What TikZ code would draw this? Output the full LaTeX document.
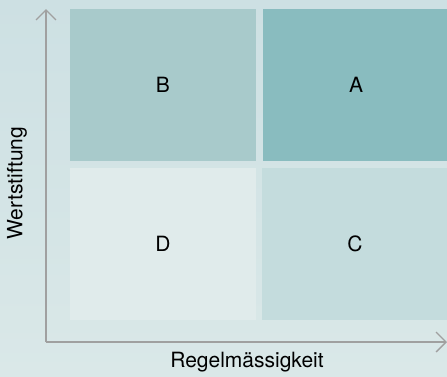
\documentclass[tikz,border=0pt]{standalone}
\usepackage{fontspec}
\setmainfont{TeX Gyre Heros}
\usetikzlibrary{positioning, arrows.meta}
\definecolor{fondoarriba}{RGB}{205, 224, 227}
\definecolor{fondoabajo}{RGB}{218, 232, 232}
\definecolor{tealfuerte}{RGB}{137, 188, 191}
\definecolor{tealmedio}{RGB}{168, 202, 203}
\definecolor{tealsuave}{RGB}{196, 220, 221}
\definecolor{tealclaro}{RGB}{224, 235, 235}
\definecolor{grisejes}{RGB}{160, 160, 160}

\begin{document}
\begin{tikzpicture}[x=1pt, y=-1pt,
      node distance=7pt and 7pt,
      quad/.style={inner sep=0pt, outer sep=0pt, minimum width=186pt,
                   minimum height=152pt, font=\fontsize{21}{24}\selectfont},
      eje/.style={-{Straight Barb[length=10pt, width=20pt]}, line width=1.3pt,
                  color=grisejes},
      etiqueta/.style={font=\fontsize{21}{24}\selectfont}]
    \shade[top color=fondoarriba, bottom color=fondoabajo] (0,0) rectangle (447,376);
    \useasboundingbox (0,0) rectangle (447,376);
    \node[quad, fill=tealmedio, anchor=north west] (quadB) at (70,9) {B};
    \node[quad, fill=tealfuerte, right=of quadB] (quadA) {A};
    \node[quad, fill=tealclaro, below=of quadB] (quadD) {D};
    \node[quad, fill=tealsuave, right=6pt of quadD] (quadC) {C};
    \coordinate (origen) at (46,342);
    \coordinate (ytop) at (46,9);
    \coordinate (xend) at (447,342);
    \draw[eje] (origen) -- (ytop);
    \draw[eje] (origen) -- (xend);
    \node[etiqueta] (xlabel) at (247,362) {Regelmässigkeit};
    \node[etiqueta, rotate=90] (ylabel) at (17,183) {Wertstiftung};
  \end{tikzpicture}
\end{document}
